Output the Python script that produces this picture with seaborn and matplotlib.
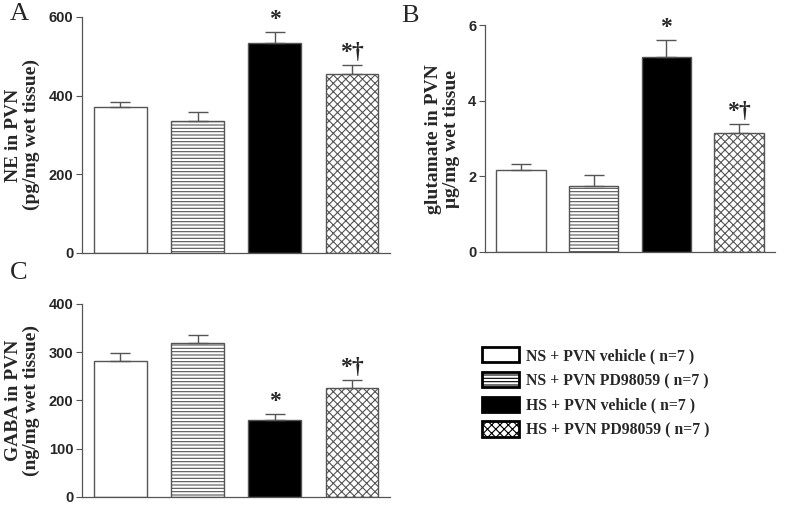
import matplotlib
matplotlib.use("Agg")
import matplotlib.pyplot as plt
import numpy as np
import pandas as pd
import seaborn as sns
from matplotlib.patches import Patch

groups = ["NS + PVN vehicle ( n=7 )", "NS + PVN PD98059 ( n=7 )",
          "HS + PVN vehicle ( n=7 )", "HS + PVN PD98059 ( n=7 )"]
ne_mean = [370, 336, 534, 454]
ne_sem = [13, 22, 28, 24]
glu_mean = [2.18, 1.76, 5.17, 3.16]
glu_sem = [0.16, 0.28, 0.45, 0.23]
gaba_mean = [282, 319, 160, 225]
gaba_sem = [16, 16, 12, 18]
ne_marks = ["", "", "*", "*†"]
glu_marks = ["", "", "*", "*†"]
gaba_marks = ["", "", "*", "*†"]

fills = ["white", "white", "black", "white"]
hatches = ["", "-----", "", "xxxx"]

sns.set_style("ticks")
plt.rcParams["hatch.color"] = "#777777"
plt.rcParams["hatch.linewidth"] = 0.8
serif = ["Liberation Serif", "DejaVu Serif"]
sans = ["Liberation Sans", "DejaVu Sans"]

fig = plt.figure(figsize=(7.87, 5.09), dpi=100)
ax_a = fig.add_axes([0.104, 0.503, 0.392, 0.464])
ax_b = fig.add_axes([0.616, 0.505, 0.369, 0.445])
ax_c = fig.add_axes([0.104, 0.024, 0.392, 0.379])


def draw_panel(ax, means, sems, marks, ylim, yticks, ylabel, star_pad):
    df = pd.DataFrame({"group": groups, "value": means})
    sns.barplot(data=df, x="group", y="value", order=groups, errorbar=None,
                width=0.68, ax=ax, color="white")
    for patch, fc, h in zip(ax.patches, fills, hatches):
        patch.set_facecolor(fc)
        patch.set_edgecolor("#555555")
        patch.set_linewidth(1.0)
        patch.set_hatch(h)
    x = np.arange(len(means))
    ax.errorbar(x, means, yerr=[np.zeros(len(sems)), sems], fmt="none",
                ecolor="#555555", elinewidth=1.0, capsize=7, capthick=1.0)
    for xi, m, s, t in zip(x, means, sems, marks):
        if t:
            ax.text(xi, m + s + star_pad, t, ha="center", va="bottom",
                    fontsize=17, fontweight="bold", family=serif)
    ax.set_ylim(*ylim)
    ax.set_yticks(yticks)
    ax.set_xlim(-0.5, 3.5)
    ax.set_xticks([])
    ax.set_xlabel("")
    ax.set_ylabel(ylabel, fontsize=14, fontweight="bold", family=serif,
                  linespacing=1.05, labelpad=6)
    for lab in ax.get_yticklabels():
        lab.set_fontweight("bold")
        lab.set_family(sans)
        lab.set_fontsize(10.5)
    ax.tick_params(axis="y", length=4, width=0.8, color="#555555", pad=2)
    sns.despine(ax=ax)
    for sp in ("left", "bottom"):
        ax.spines[sp].set_color("#555555")
        ax.spines[sp].set_linewidth(0.9)


draw_panel(ax_a, ne_mean, ne_sem, ne_marks, (0, 600), [0, 200, 400, 600],
           "NE in PVN\n(pg/mg wet tissue)", 4)
draw_panel(ax_b, glu_mean, glu_sem, glu_marks, (0, 6), [0, 2, 4, 6],
           "glutamate in PVN\nμg/mg wet tissue", 0.05)
draw_panel(ax_c, gaba_mean, gaba_sem, gaba_marks, (0, 400),
           [0, 100, 200, 300, 400], "GABA in PVN\n(ng/mg wet tissue)", 3)

for lbl, (fx, fy) in zip(["A", "B", "C"], [(0.012, 0.995), (0.51, 0.99), (0.012, 0.485)]):
    fig.text(fx, fy, lbl, fontsize=19, family=serif, va="top", ha="left")

handles = [Patch(facecolor=fc, edgecolor="black", hatch=h, linewidth=2.0)
           for fc, h in zip(fills, hatches)]
leg = fig.legend(handles, groups, loc="upper left", bbox_to_anchor=(0.605, 0.33),
                 frameon=False, handlelength=2.3, handleheight=1.1,
                 handletextpad=0.45, labelspacing=0.5, borderaxespad=0,
                 prop={"family": serif, "size": 11.3, "weight": "bold"})

fig.savefig("out.png", dpi=100)
